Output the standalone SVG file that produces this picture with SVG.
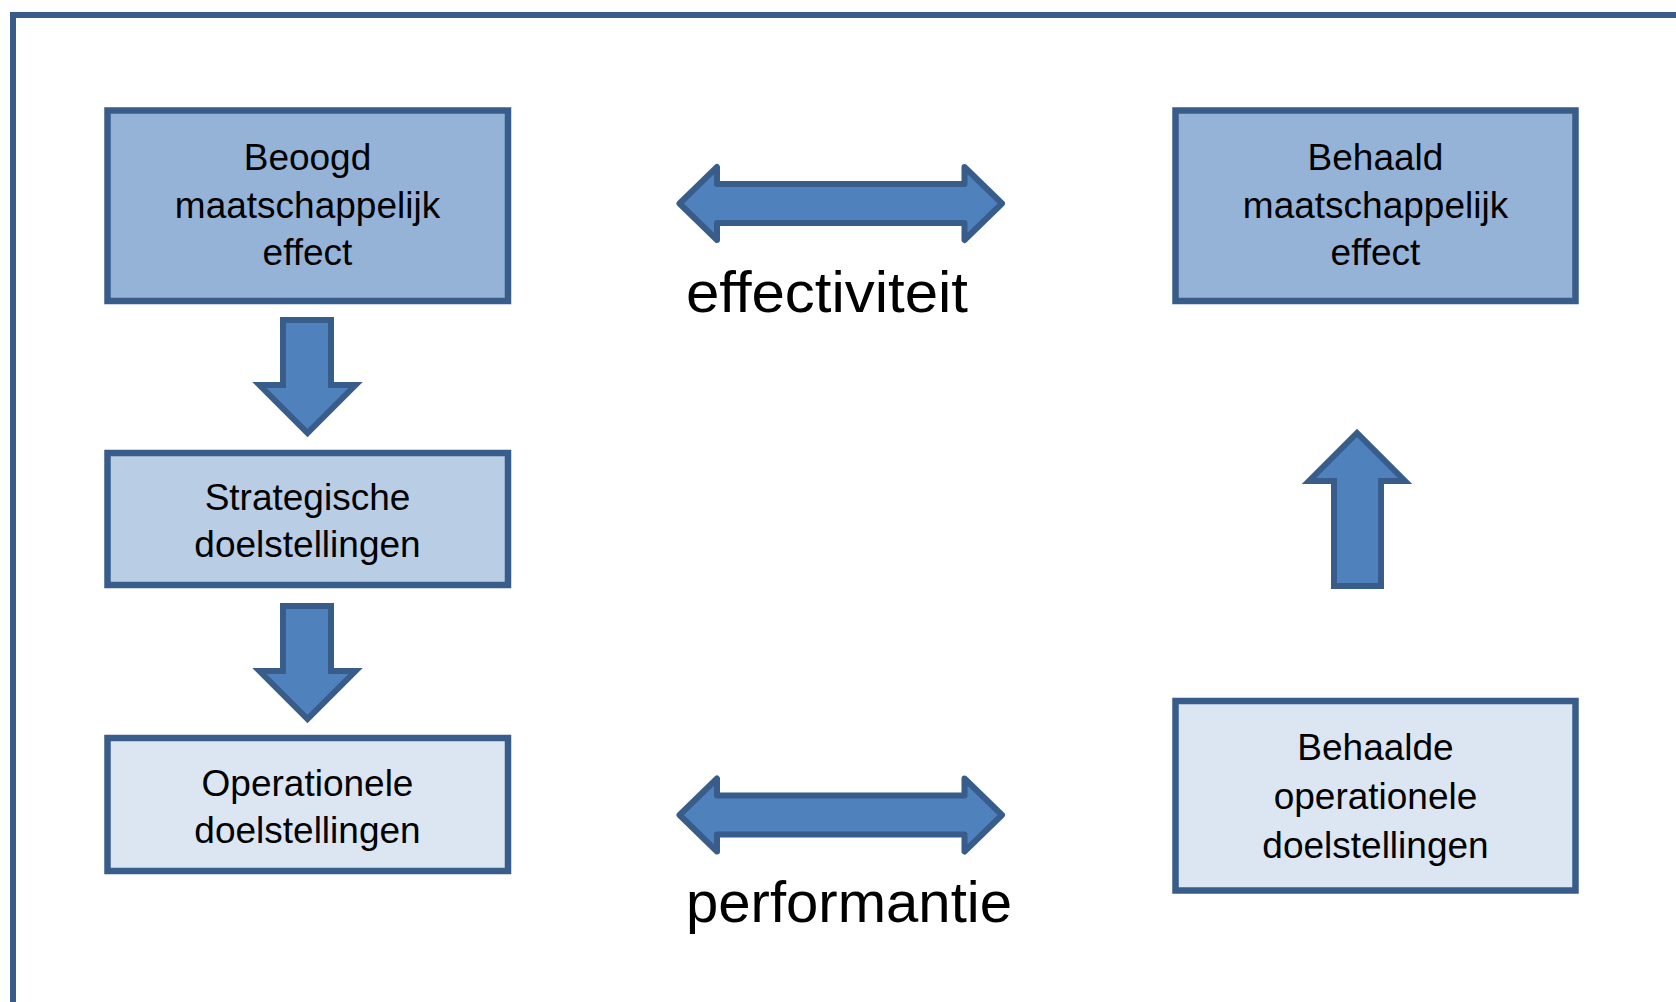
<svg xmlns="http://www.w3.org/2000/svg" width="1676" height="1002" viewBox="0 0 1676 1002">
<style>
.box{stroke:#385D8A;stroke-width:6.5;stroke-linejoin:miter}
.dark{fill:#95B3D7}
.mid{fill:#B9CDE5}
.light{fill:#DCE6F2}
.arr{fill:#4F81BD;stroke:#385D8A;stroke-width:6}
.varr{stroke-linejoin:miter}
.harr{stroke-linejoin:round}
.t{font-family:"Liberation Sans",Arial,sans-serif;font-size:37px;fill:#000;text-anchor:middle}
.lbl{font-family:"Liberation Sans",Arial,sans-serif;font-size:58px;fill:#000}
</style>
<rect x="0" y="0" width="1676" height="1002" fill="#FFFFFF"/>
<path d="M13,1010 V15 H1690" fill="none" stroke="#385D8A" stroke-width="6"/>

<g id="node-beoogd">
<rect class="box dark" x="107.5" y="110.5" width="400.5" height="190.5"/>
<text class="t" x="307.5" y="170">Beoogd</text>
<text class="t" x="307.5" y="217.5">maatschappelijk</text>
<text class="t" x="307.5" y="265">effect</text>
</g>

<g id="node-behaald">
<rect class="box dark" x="1175.5" y="110.5" width="400" height="190.5"/>
<text class="t" x="1375.5" y="170">Behaald</text>
<text class="t" x="1375.5" y="217.5">maatschappelijk</text>
<text class="t" x="1375.5" y="265">effect</text>
</g>

<g id="node-strategische">
<rect class="box mid" x="107.5" y="453" width="400.5" height="132"/>
<text class="t" x="307.5" y="510">Strategische</text>
<text class="t" x="307.5" y="557">doelstellingen</text>
</g>

<g id="node-operationele">
<rect class="box light" x="107.5" y="738" width="400.5" height="133"/>
<text class="t" x="307.5" y="796">Operationele</text>
<text class="t" x="307.5" y="843">doelstellingen</text>
</g>

<g id="node-behaalde-operationele">
<rect class="box light" x="1175.5" y="701" width="400" height="189.5"/>
<text class="t" x="1375.5" y="760">Behaalde</text>
<text class="t" x="1375.5" y="809">operationele</text>
<text class="t" x="1375.5" y="858">doelstellingen</text>
</g>

<g id="connectors">
<polygon class="arr varr" points="283,320 331,320 331,385 355.5,385 307.5,433 259.5,385 283,385"/>
<polygon class="arr varr" points="283,606 331,606 331,671 355.5,671 307.5,719 259.5,671 283,671"/>
<polygon class="arr varr" points="1334,586 1381,586 1381,481 1405,481 1357,433 1309,481 1334,481"/>
<polygon class="arr harr" points="679.5,203.5 717,167 717,184 964.5,184 964.5,167 1002,203.5 964.5,240 964.5,223 717,223 717,240"/>
<polygon class="arr harr" points="679.5,815 717,778.5 717,795.5 964.5,795.5 964.5,778.5 1002,815 964.5,851.5 964.5,834.5 717,834.5 717,851.5"/>
<text class="lbl" x="686" y="311.5" textLength="282" lengthAdjust="spacingAndGlyphs">effectiviteit</text>
<text class="lbl" x="686" y="921.5" textLength="326" lengthAdjust="spacingAndGlyphs">performantie</text>
</g>
</svg>
